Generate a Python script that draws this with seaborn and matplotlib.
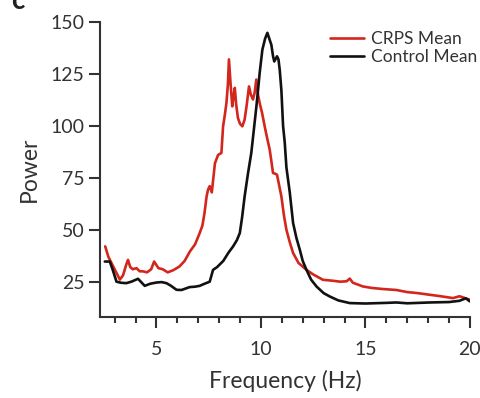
import numpy as np
import pandas as pd
import matplotlib
matplotlib.use("Agg")
import matplotlib.pyplot as plt
import seaborn as sns

sns.set_style("ticks")
plt.rcParams['font.family'] = ['Lato', 'DejaVu Sans']

# values
crps_freq = [2.55, 2.7, 2.9, 3.1, 3.25, 3.4, 3.55, 3.64, 3.75, 3.87, 4.05, 4.2, 4.35, 4.55,
             4.75, 4.89, 5.0, 5.1, 5.3, 5.54, 5.8, 6.1, 6.35, 6.6, 6.85, 7.07, 7.2, 7.3, 7.4,
             7.47, 7.55, 7.65, 7.8, 7.95, 8.11, 8.19, 8.27, 8.35, 8.42, 8.47, 8.55, 8.63, 8.7,
             8.75, 8.82, 8.9, 9.0, 9.11, 9.22, 9.32, 9.43, 9.52, 9.62, 9.7, 9.78, 9.86, 9.94,
             10.06, 10.18, 10.3, 10.42, 10.5, 10.58, 10.68, 10.77, 10.88, 10.98, 11.1, 11.22,
             11.38, 11.54, 11.8, 12.18, 12.5, 12.97, 13.4, 13.8, 14.1, 14.25, 14.4, 14.88,
             15.3, 15.8, 16.48, 17.0, 17.5, 18.08, 18.6, 19.19, 19.5, 19.8, 20.0]
crps_power = [42, 37, 33, 29, 26, 28, 33, 35.5, 32, 31, 31.5, 30, 30, 29.5,
              31, 34.7, 33, 31.5, 31, 29.5, 30.5, 32.3, 35, 39.5, 43, 48.4, 52, 58, 66,
              69.3, 71, 68, 82, 86, 87, 99.8, 105, 111, 120, 132, 120, 109.4, 115,
              118.3, 110, 103.8, 101, 99.8, 103, 110, 119, 115, 112.7, 116, 122.3, 115, 111,
              106, 99.8, 94, 88.6, 83, 77.3, 77, 76.5, 71, 66, 57, 50,
              44, 38.8, 34, 30.7, 28.5, 25.9, 25.5, 25, 25.2, 26.5, 24.5, 22.7,
              22, 21.5, 21, 20, 19.5, 18.7, 18, 17.1, 18, 17, 16.3]

ctrl_freq = [2.53, 2.77, 2.9, 3.09, 3.3, 3.56, 3.8, 4.12, 4.3, 4.44, 4.7, 5.0, 5.25, 5.48,
             5.7, 5.96, 6.2, 6.59, 6.85, 7.07, 7.3, 7.55, 7.71, 7.9, 8.2, 8.45, 8.67, 8.85,
             8.99, 9.1, 9.22, 9.38, 9.54, 9.66, 9.78, 9.86, 9.94, 10.07, 10.2, 10.31, 10.4,
             10.5, 10.58, 10.64, 10.77, 10.84, 10.9, 10.98, 11.06, 11.14, 11.22, 11.38, 11.54,
             11.7, 11.86, 12.0, 12.18, 12.4, 12.66, 13.0, 13.29, 13.7, 14.25, 15.0, 16.0,
             16.48, 17.0, 18.08, 19.0, 19.5, 19.8, 20.0]
ctrl_power = [34.7, 34.7, 31, 25, 24.5, 24.3, 25, 26.4, 24.5, 23, 24, 24.6, 24.8, 24.3,
              23, 21.1, 21, 22.4, 22.6, 23, 24, 25, 30.7, 32, 35, 39, 42, 45,
              48.4, 56, 66, 77, 87, 98, 109, 117, 125.5, 136.7, 142, 144.8, 142,
              139, 133.5, 131, 133.5, 132, 127, 117, 100, 92, 80, 68, 53.2,
              46, 40.4, 35, 30.7, 26, 22.7, 19.5, 17.9, 16, 14.7, 14.5, 14.8,
              15, 14.6, 15, 15.2, 15.8, 17, 15.5]

df = pd.concat([
    pd.DataFrame({'Frequency': crps_freq, 'Power': crps_power, 'group': 'CRPS Mean'}),
    pd.DataFrame({'Frequency': ctrl_freq, 'Power': ctrl_power, 'group': 'Control Mean'}),
])

fig = plt.figure(figsize=(4.8, 3.98), dpi=100)
ax = fig.add_axes([0.2083, 0.2035, 0.7707, 0.7412])
sns.lineplot(data=df, x='Frequency', y='Power', hue='group',
             palette={'CRPS Mean': '#d3261c', 'Control Mean': '#111111'},
             estimator=None, sort=False, linewidth=1.9, ax=ax)

ax.set_xlim(2.3, 20)
ax.set_ylim(8, 150)
ax.set_xticks([5, 10, 15, 20])
ax.set_xticks(np.arange(3, 20), minor=True)
ax.set_yticks([25, 50, 75, 100, 125, 150])
sns.despine(ax=ax)
for s in ['left', 'bottom']:
    ax.spines[s].set_linewidth(1.5)
    ax.spines[s].set_color('#333333')
ax.tick_params(which='major', length=8, width=1.5, color='#333333',
               labelsize=14, labelcolor='#333333', pad=3)
ax.tick_params(which='minor', axis='x', length=4, width=1.5, color='#333333')
ax.tick_params(axis='x', pad=9)
ax.set_xlabel('Frequency (Hz)', fontsize=16.5, color='#333333', labelpad=9)
ax.set_ylabel('Power', fontsize=16.5, color='#333333', labelpad=8)

leg = ax.legend(loc='upper left', bbox_to_anchor=(0.672, 0.94), bbox_transform=fig.transFigure,
                frameon=False, fontsize=12.5, handlelength=2.0, handletextpad=0.4,
                labelspacing=0.15, borderaxespad=0)
for t in leg.get_texts():
    t.set_color('#333333')

fig.text(0.0375, 1 - 9 / 398, 'c', fontsize=20, fontweight='bold', color='#222222',
         va='baseline', ha='center')

fig.savefig('out.png', dpi=100)
